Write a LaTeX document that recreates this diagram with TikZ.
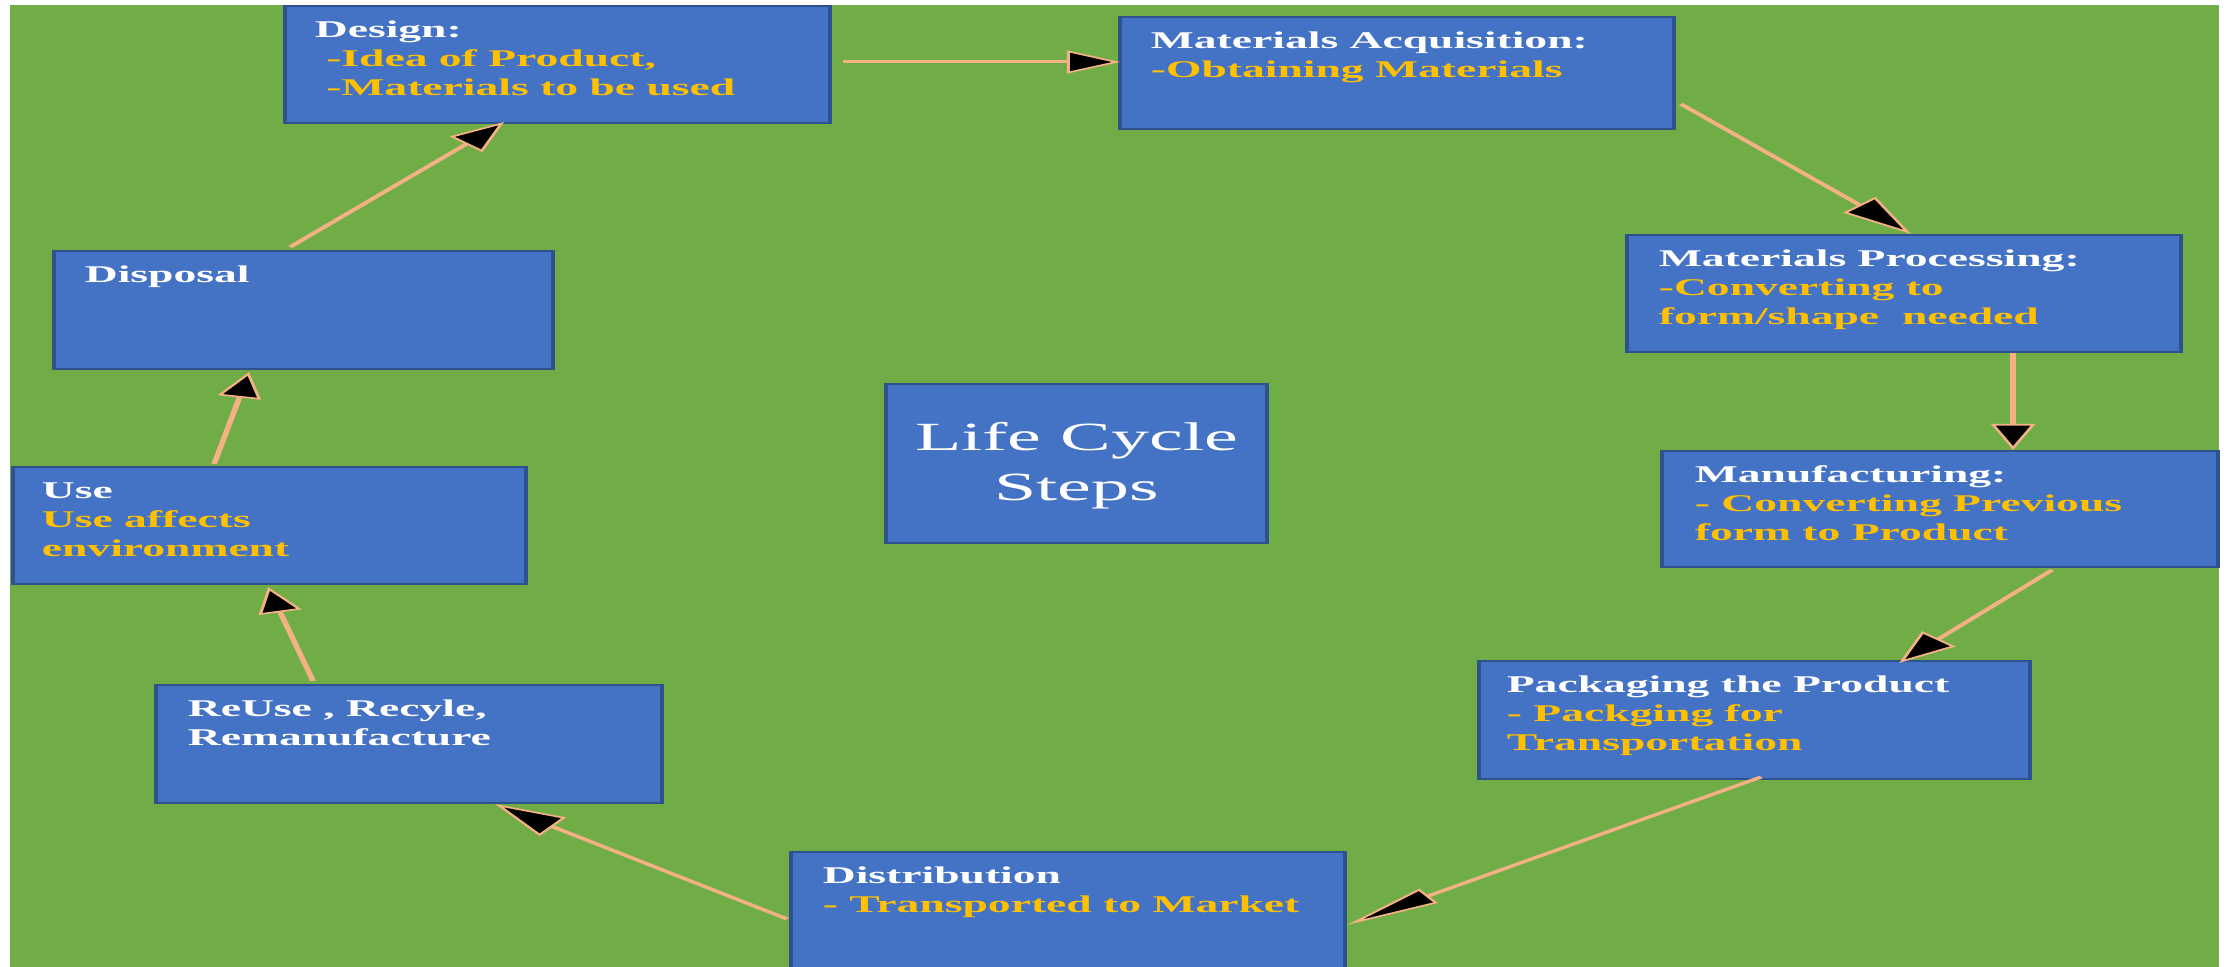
\documentclass[tikz,border=0pt]{standalone}
\usepackage{fontspec}
\setmainfont{Liberation Serif}
\usetikzlibrary{arrows.meta,calc,fit}

\definecolor{leaf}{HTML}{70AD47}
\definecolor{panel}{HTML}{4472C4}
\definecolor{panelrim}{HTML}{2F528F}
\definecolor{amber}{HTML}{FFC000}
\definecolor{peach}{HTML}{F4B183}

\tikzset{
  stepbox/.style={draw=panelrim, fill=panel, line width=1pt, inner sep=0pt},
  boxtext/.style={anchor=north west, align=left, inner sep=0pt, text=white,
    font=\fontsize{12}{14.5}\selectfont\bfseries},
  link/.style={draw=peach, line width=1.5pt,
    -{Triangle[length=#1, width=11.5pt, fill=black, line width=0.8pt]}},
  link/.default=14pt,
  longlink/.style={draw=peach, line width=1.5pt,
    -{Triangle[length=26pt, width=8.5pt, fill=black, line width=0.8pt]}},
}
\newcommand{\firstln}{\rule{0pt}{10pt}}
\newcommand{\sub}[1]{\textcolor{amber}{#1}}

\begin{document}
\begin{tikzpicture}[x=0.5pt, y=-0.5pt]
\useasboundingbox (0,0) rectangle (2224,967);
\fill[leaf] (10,5) rectangle (2219,967);

% everything below is drawn in a horizontally stretched frame
\begin{scope}[transform canvas={xscale=1.9}, x=0.263158pt, y=-0.5pt]
  % step boxes
  \node[stepbox, fit={(285,6) (830,123)}]    (design)   {};
  \node[stepbox, fit={(1120,17) (1674,129)}] (matacq)   {};
  \node[stepbox, fit={(1627,235) (2181,352)}] (matproc) {};
  \node[stepbox, fit={(1662,451) (2218,567)}] (manuf)   {};
  \node[stepbox, fit={(1479,661) (2030,779)}] (pack)    {};
  \node[stepbox, fit={(791,852) (1345,985)}]  (distr)   {};
  \node[stepbox, fit={(156,685) (662,803)}]   (reuse)   {};
  \node[stepbox, fit={(13,467) (526,584)}]    (use)     {};
  \node[stepbox, fit={(54,251) (553,369)}]    (disposal) {};
  \node[stepbox, fit={(886,384) (1267,543)}]  (hub)     {};

  % box texts
  \node[boxtext] (designtxt) at ($(design.north west)+(31,12)$)
    {\firstln Design:\\\sub{\ -Idea of Product,}\\\sub{\ -Materials to be used}};
  \node[boxtext] (matacqtxt) at ($(matacq.north west)+(32,12)$)
    {\firstln Materials Acquisition:\\\sub{-Obtaining Materials}};
  \node[boxtext] (matproctxt) at ($(matproc.north west)+(33,12)$)
    {\firstln Materials Processing:\\\sub{-Converting to}\\\sub{form/shape\ \ needed}};
  \node[boxtext] (manuftxt) at ($(manuf.north west)+(34,12)$)
    {\firstln Manufacturing:\\\sub{- Converting Previous}\\\sub{form to Product}};
  \node[boxtext] (packtxt) at ($(pack.north west)+(29,12)$)
    {\firstln Packaging the Product\\\sub{- Packging for}\\\sub{Transportation}};
  \node[boxtext] (distrtxt) at ($(distr.north west)+(33,12)$)
    {\firstln Distribution\\\sub{- Transported to Market}};
  \node[boxtext] (reusetxt) at ($(reuse.north west)+(33,12)$)
    {\firstln ReUse , Recyle,\\Remanufacture};
  \node[boxtext] (usetxt) at ($(use.north west)+(30,12)$)
    {\firstln Use\\\sub{Use affects}\\\sub{environment}};
  \node[boxtext] (disposaltxt) at ($(disposal.north west)+(32,12)$)
    {\firstln Disposal};
  \node[text=white, align=center, inner sep=0pt,
        font=\fontsize{20}{25}\selectfont] (hubtxt) at ($(hub.center)+(0,2)$)
    {Life Cycle\\Steps};

  % connectors around the cycle
  \draw[link=14pt] ($(design.north east)+(11,57)$)   -- ($(matacq.north west)+(2,46)$);
  \draw[link=20pt] ($(matacq.north east)+(5,88)$)    -- ($(matproc.north west)+(286,0)$);
  \draw[link=13pt] ($(matproc.south west)+(388,0)$)  -- ($(manuf.north west)+(353,0)$);
  \draw[link=16pt] ($(manuf.south west)+(392,2)$)    -- ($(pack.north west)+(422,3)$);
  \draw[longlink]  ($(pack.south west)+(284,-3)$)    -- ($(distr.north east)+(0,74)$);
  \draw[link=19pt] ($(distr.north west)+(-2,68)$)    -- ($(reuse.south west)+(341,0)$);
  \draw[link=13pt] ($(reuse.north west)+(159,-3)$)   -- ($(use.south west)+(257,2)$);
  \draw[link=13pt] ($(use.north west)+(203,-2)$)     -- ($(disposal.south west)+(197,2)$);
  \draw[link=15pt] ($(disposal.north west)+(238,-3)$) -- ($(design.south west)+(221,-2)$);
\end{scope}
\end{tikzpicture}
\end{document}
